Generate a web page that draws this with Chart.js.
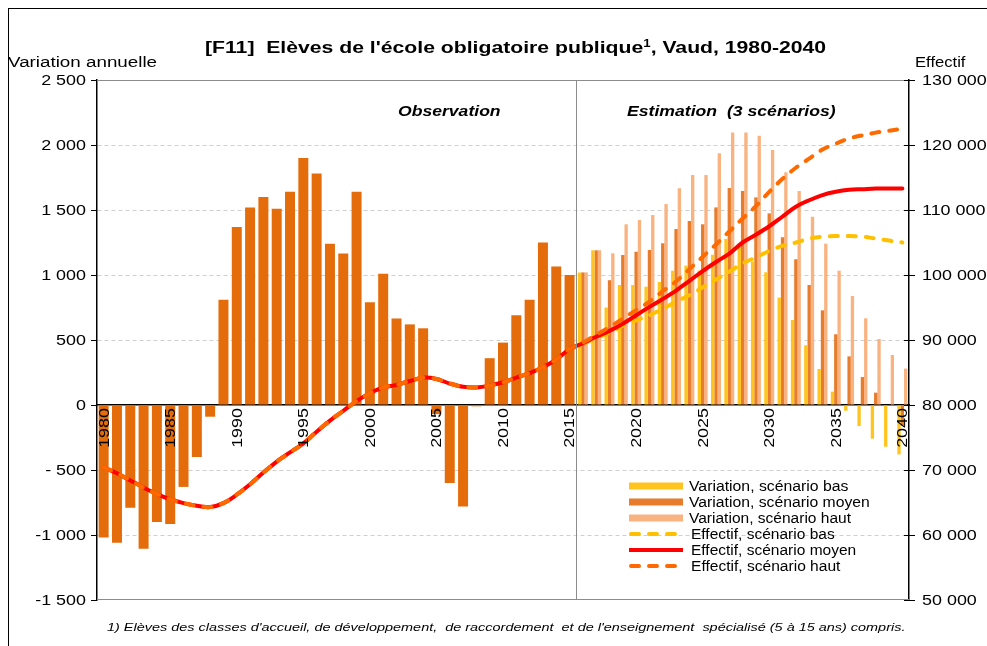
<!DOCTYPE html>
<html>
<head>
<meta charset="utf-8">
<script src="https://cdn.jsdelivr.net/npm/chart.js@4.4.1/dist/chart.umd.min.js"></script>
<style>
body { margin: 0; background: #fff; }
#wrap { position: relative; width: 987px; height: 646px; overflow: hidden; font-family: "Liberation Sans", Arial, sans-serif; color: #000; }
#frame { position: absolute; left: 8px; top: 8px; width: 1000px; height: 700px; border-left: 1px solid #000; border-top: 1px solid #000; }
canvas { position: absolute; left: 0; top: 0; }
.t { position: absolute; white-space: nowrap; line-height: 1; transform-origin: 0 50%; }
.sw { position: absolute; left: 629px; }
</style>
</head>
<body>
<div id="wrap">
  <div id="frame"></div>
  <canvas id="chart" width="987" height="646"></canvas>
  <div class="t" id="titre" style="font-size:16px;font-weight:bold">[F11]&nbsp; Elèves de l'école obligatoire publique<sup style="font-size:10px">1</sup>, Vaud, 1980-2040</div>
  <div class="t" id="axeG" style="font-size:14px">Variation annuelle</div>
  <div class="t" id="axeD" style="font-size:14px">Effectif</div>
  <div class="t" id="obs" style="font-size:14px;font-weight:bold;font-style:italic">Observation</div>
  <div class="t" id="est" style="font-size:14px;font-weight:bold;font-style:italic">Estimation&nbsp; (3 scénarios)</div>
  <div class="t" id="note" style="font-size:11px;font-style:italic">1) Elèves des classes d'accueil, de développement,&nbsp; de raccordement&nbsp; et de l'enseignement&nbsp; spécialisé (5 à 15 ans) compris.</div>
  <div id="legende"></div>
</div>
<script>
// années 1980-2040
const annees = [];
for (let a = 1980; a <= 2040; a++) annees.push(String(a));
const labelsX = ['1980', '1985', '1990', '1995', '2000', '2005', '2010', '2015', '2020', '2025', '2030', '2035', '2040'];

// variation annuelle observée, 1980-2015
const variationObs = [-1020, -1060, -790, -1105, -900, -915, -630, -400, -90, 810,
  1370, 1520, 1600, 1510, 1640, 1900, 1780, 1240, 1165, 1640,
  790, 1010, 665, 620, 590, -70, -600, -780, -10, 360,
  480, 690, 810, 1250, 1065, 1000];
// variation annuelle estimée, 2016-2040
const variationBas = [1020, 1190, 750, 923, 923, 910, 946, 1033, 1072, 1035, 1156, 1278, 1218, 1103, 1021, 826, 654, 459, 277, 103, -44, -162, -259, -321, -380];
const variationMoyen = [1020, 1190, 960, 1154, 1179, 1192, 1244, 1354, 1415, 1390, 1520, 1669, 1646, 1597, 1474, 1290, 1121, 923, 728, 544, 374, 215, 95, -3, -160];
const variationHaut = [1020, 1190, 1167, 1390, 1423, 1461, 1546, 1667, 1769, 1769, 1936, 2097, 2097, 2072, 1962, 1790, 1646, 1449, 1241, 1033, 838, 667, 508, 385, 280];

// effectif observé, 1980-2015
const effectifObs = [70400, 69500, 68400, 67300, 66300, 65500, 64900, 64500, 64300, 64900,
  66200, 67800, 69600, 71300, 72700, 74100, 75900, 77600, 79100, 80600,
  81800, 82700, 83100, 83700, 84200, 84000, 83300, 82800, 82700, 83000,
  83500, 84200, 84900, 85800, 87000, 88600];
// effectif estimé, 2016-2040
const effectifBas = [89400, 90300, 91100, 92200, 93000, 93800, 94800, 95900, 96900, 98100, 99300, 100500, 101800, 102700, 103700, 104500, 105000, 105600, 105900, 106000, 106000, 105900, 105600, 105300, 105000];
const effectifMoyen = [89500, 90500, 91400, 92500, 93800, 95100, 96300, 97600, 99100, 100600, 102000, 103300, 105000, 106200, 107500, 109000, 110500, 111500, 112300, 112800, 113100, 113200, 113300, 113300, 113300];
const effectifHaut = [89600, 90800, 92000, 93300, 94600, 95900, 97500, 99000, 100900, 102800, 104700, 106700, 108700, 110600, 112800, 114800, 116500, 117900, 119300, 120200, 121000, 121500, 121900, 122200, 122500];

const nObs = variationObs.length;
const vide = n => new Array(n).fill(null);
const obsSeul = variationObs.concat(vide(annees.length - nObs));
const estim = arr => vide(nObs).concat(arr);
const courbe = arr => effectifObs.concat(arr);

const SX = 1.28;
const fmt = v => String(Math.abs(v)).replace(/\B(?=(\d{3})+(?!\d))/g, ' ');
const fmtG = v => v < 0 ? '-' + (Math.abs(v) < 1000 ? ' ' : '') + fmt(v) : fmt(v);

function texteEtire(ctx, s, x, y, align, rot) {
  ctx.save();
  ctx.translate(x, y);
  ctx.rotate(rot);
  ctx.scale(SX, 1);
  ctx.textAlign = align;
  ctx.fillText(s, 0, 0);
  ctx.restore();
}

const decor = {
  id: 'decor',
  beforeDatasetsDraw(chart) {
    const ctx = chart.ctx, a = chart.chartArea;
    ctx.save();
    ctx.strokeStyle = '#8c8c8c'; ctx.lineWidth = 1;
    ctx.beginPath();
    ctx.moveTo(a.left, a.top + 0.5); ctx.lineTo(a.right, a.top + 0.5);
    ctx.moveTo(a.left, a.bottom - 0.5); ctx.lineTo(a.right, a.bottom - 0.5);
    ctx.stroke();
    ctx.restore();
  },
  afterDatasetsDraw(chart) {
    const ctx = chart.ctx, a = chart.chartArea, x = chart.scales.x;
    const xs = Math.round((x.getPixelForValue(nObs - 1) + x.getPixelForValue(nObs)) / 2) + 0.5;
    ctx.save();
    ctx.strokeStyle = '#8c8c8c'; ctx.lineWidth = 1;
    ctx.beginPath(); ctx.moveTo(xs, a.top); ctx.lineTo(xs, a.bottom); ctx.stroke();
    ctx.restore();
  },
  afterDraw(chart) {
    const ctx = chart.ctx, a = chart.chartArea;
    const { x, y, y1 } = chart.scales;
    ctx.save();
    // graduations de droite, de part et d'autre de l'axe
    ctx.strokeStyle = '#000'; ctx.lineWidth = 1;
    ctx.beginPath();
    y1.ticks.forEach((t, i) => {
      const py = Math.round(y1.getPixelForTick(i)) + 0.5;
      ctx.moveTo(a.right - 5, py); ctx.lineTo(a.right + 6, py);
    });
    ctx.stroke();
    ctx.fillStyle = '#000';
    ctx.font = '14px "Liberation Sans", Arial, sans-serif';
    ctx.textBaseline = 'middle';
    y.ticks.forEach((t, i) => texteEtire(ctx, fmtG(t.value), a.left - 11, y.getPixelForTick(i) + 1, 'right', 0));
    y1.ticks.forEach((t, i) => texteEtire(ctx, fmt(t.value), a.right + 13, y1.getPixelForTick(i) + 1, 'left', 0));
    const y0 = y.getPixelForValue(0) + 3;
    labelsX.forEach(l => {
      const i = annees.indexOf(l);
      texteEtire(ctx, l, x.getPixelForValue(i) + 1, y0, 'right', -Math.PI / 2);
    });
    ctx.restore();
  }
};

const couleurs = { obs: '#E46C0A', bas: '#FFC41F', moyen: '#E67C2C', haut: '#F9B381', lBas: '#FFC000', lMoyen: '#FF0000', lHaut: '#FF6A00' };

const datasets = [
  { type: 'bar', label: 'Variation, observée', data: obsSeul, backgroundColor: couleurs.obs, yAxisID: 'y', order: 10, barPercentage: 1 },
  { type: 'bar', label: 'Variation, scénario bas', data: estim(variationBas), backgroundColor: couleurs.bas, yAxisID: 'y', order: 10, legende: true },
  { type: 'bar', label: 'Variation, scénario moyen', data: estim(variationMoyen), backgroundColor: couleurs.moyen, yAxisID: 'y', order: 10, legende: true },
  { type: 'bar', label: 'Variation, scénario haut', data: estim(variationHaut), backgroundColor: couleurs.haut, yAxisID: 'y', order: 10, legende: true },
  { type: 'line', label: 'Effectif, scénario bas', data: courbe(effectifBas), borderColor: couleurs.lBas, borderDash: [8, 10], yAxisID: 'y1', order: 3, legende: true },
  { type: 'line', label: 'Effectif, scénario moyen', data: courbe(effectifMoyen), borderColor: couleurs.lMoyen, yAxisID: 'y1', order: 2, legende: true },
  { type: 'line', label: 'Effectif, scénario haut', data: courbe(effectifHaut), borderColor: couleurs.lHaut, borderDash: [8, 10], yAxisID: 'y1', order: 1, legende: true }
];

const chart = new Chart(document.getElementById('chart'), {
  data: { labels: annees, datasets },
  options: {
    responsive: false,
    animation: false,
    devicePixelRatio: 1,
    layout: { padding: { top: 80, bottom: 46, left: 0, right: 0 } },
    datasets: {
      bar: { skipNull: true, categoryPercentage: 0.75, barPercentage: 1, borderWidth: 0 },
      line: { borderWidth: 4, pointRadius: 0, tension: 0.35, borderCapStyle: 'round', fill: false }
    },
    plugins: { legend: { display: false }, tooltip: { enabled: false } },
    scales: {
      x: {
        type: 'category', position: { y: 0 }, offset: true, z: 1,
        grid: { display: false },
        border: { display: true, color: '#000', width: 1.5 },
        ticks: { display: false }
      },
      y: {
        position: 'left', min: -1500, max: 2500,
        ticks: { display: false, stepSize: 500 },
        grid: {
          color: c => (c.tick && [0, 2500, -1500].includes(c.tick.value)) ? 'rgba(0,0,0,0)' : '#cfcfcf',
          tickColor: '#000', tickLength: 6, lineWidth: 1
        },
        border: { color: '#000', width: 1.5, dash: [4, 3] },
        afterFit: s => { s.width = 97; }
      },
      y1: {
        position: 'right', min: 50000, max: 130000,
        ticks: { display: false, stepSize: 10000 },
        grid: { drawOnChartArea: false, drawTicks: false },
        border: { color: '#000', width: 1.5 },
        afterFit: s => { s.width = 78; }
      }
    }
  },
  plugins: [decor]
});

// légende
const lignesLeg = [486, 502, 518, 534, 550, 566];
const finLeg = [848, 870, 851, 835, 856, 840];
const leg = document.getElementById('legende');
datasets.filter(d => d.legende).forEach((d, i) => {
  const yc = lignesLeg[i];
  const sw = document.createElementNS('http://www.w3.org/2000/svg', 'svg');
  sw.setAttribute('class', 'sw');
  sw.setAttribute('width', '56'); sw.setAttribute('height', '10');
  sw.style.top = (yc - 5) + 'px';
  if (d.type === 'bar') {
    sw.innerHTML = `<rect x="0" y="1.5" width="54" height="7" fill="${d.backgroundColor}"/>`;
  } else {
    const dash = d.borderDash ? `stroke-dasharray="${d.borderDash.join(' ')}" stroke-linecap="round"` : '';
    sw.innerHTML = `<line x1="${d.borderDash ? 2 : 0}" y1="5" x2="54" y2="5" stroke="${d.borderColor}" stroke-width="4" ${dash}/>`;
  }
  leg.appendChild(sw);
  const t = document.createElement('div');
  t.className = 't'; t.style.fontSize = '14px'; t.textContent = d.label;
  t.dataset.x0 = d.type === 'bar' ? 689 : 691; t.dataset.x1 = finLeg[i]; t.dataset.y = yc;
  leg.appendChild(t);
});

function placer(el, x0, x1, yc) {
  el.style.left = x0 + 'px';
  el.style.top = (yc - el.offsetHeight / 2) + 'px';
  el.style.transform = 'scaleX(' + ((x1 - x0) / el.offsetWidth) + ')';
}

function placerTout() {
  placer(document.getElementById('titre'), 205, 826, 47);
  placer(document.getElementById('axeG'), 8, 157, 62);
  placer(document.getElementById('axeD'), 915, 966, 62);
  placer(document.getElementById('obs'), 398, 501, 111);
  placer(document.getElementById('est'), 627, 836, 111);
  placer(document.getElementById('note'), 107, 905, 627);
  leg.querySelectorAll('.t').forEach(t => placer(t, +t.dataset.x0, +t.dataset.x1, +t.dataset.y));
}
placerTout();
if (document.fonts) document.fonts.ready.then(placerTout);
</script>
</body>
</html>
